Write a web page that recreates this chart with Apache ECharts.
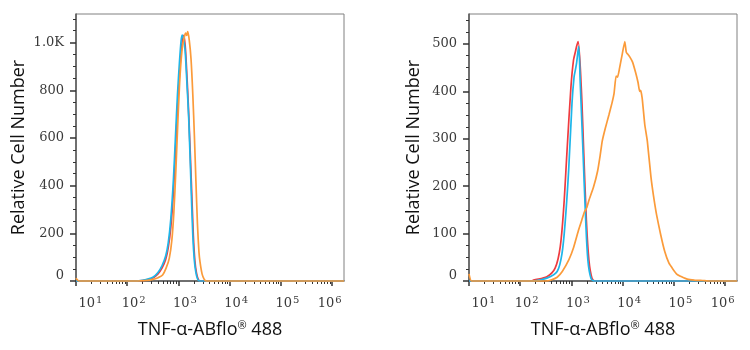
<!DOCTYPE html>
<html>
<head>
<meta charset="utf-8">
<script src="https://cdn.jsdelivr.net/npm/echarts@6/dist/echarts.min.js"></script>
<style>
  html, body { margin: 0; padding: 0; background: #fff; }
  #main { width: 750px; height: 350px; }
</style>
</head>
<body>
<div id="main"></div>
<script>
// x = fluorescence intensity (log axis), y = cell count
// left panel
var leftRedX = [10, 148, 200, 251, 316, 398, 479, 562, 631, 708, 794, 871, 955, 1047, 1148, 1259, 1349, 1445, 1585, 1778, 1950, 2089, 2239, 2399, 2630, 1698244];
var leftRedY = [0, 0, 2, 6, 13, 30, 55, 90, 140, 225, 370, 540, 720, 870, 980, 1030, 990, 880, 700, 420, 190, 85, 35, 10, 0, 0];
var leftCyanX = [10, 148, 200, 251, 316, 398, 479, 562, 631, 708, 794, 871, 955, 1047, 1122, 1175, 1259, 1349, 1445, 1585, 1758, 1905, 2042, 2188, 2344, 2570, 1698244];
var leftCyanY = [0, 0, 3, 8, 16, 36, 65, 105, 160, 260, 420, 600, 780, 920, 1005, 1032, 1015, 965, 850, 680, 400, 190, 85, 35, 10, 0, 0];
var leftOrangeX = [10, 11.5, 158, 224, 316, 398, 490, 575, 661, 741, 813, 891, 977, 1072, 1175, 1288, 1380, 1445, 1514, 1622, 1758, 1905, 2042, 2188, 2344, 2512, 2630, 2884, 3162, 3467, 1698244];
var leftOrangeY = [12, 0, 0, 2, 7, 14, 25, 55, 95, 170, 290, 470, 680, 860, 970, 1020, 1040, 1030, 1046, 1010, 930, 780, 610, 420, 240, 120, 80, 30, 8, 0, 0];

// right panel
var rightRedX = [10, 170, 182, 331, 479, 603, 708, 813, 977, 1096, 1202, 1259, 1349, 1549, 1738, 1950, 2188, 2512, 2951, 1698244];
var rightRedY = [0, 0, 2, 9, 27, 72, 157, 269, 410, 466, 485, 495, 505, 410, 269, 129, 44, 6, 0, 0];
var rightCyanX = [10, 178, 331, 525, 653, 759, 881, 1023, 1122, 1191, 1259, 1380, 1479, 1683, 1892, 2089, 2399, 2818, 1698244];
var rightCyanY = [0, 0, 6, 20, 58, 129, 234, 375, 430, 445, 460, 494, 420, 269, 129, 44, 6, 0, 0];
var rightOrangeX = [10, 11.2, 316, 398, 525, 661, 891, 1096, 1380, 1585, 1778, 1995, 2188, 2692, 3236, 3631, 3981, 4571, 5370, 6166, 6761, 7413, 7943, 8710, 9772, 10965, 11749, 12589, 13804, 15488, 17783, 19953, 21380, 22387, 23988, 26915, 30200, 35481, 39811, 45709, 54954, 66069, 79433, 95499, 114815, 141254, 181970, 251189, 363078, 501187, 1698244];
var rightOrangeY = [15, 0, 0, 2, 8, 20, 45, 70, 108, 128, 145, 155, 170, 198, 232, 265, 295, 322, 350, 375, 395, 432, 430, 450, 478, 505, 482, 478, 472, 462, 440, 418, 400, 402, 385, 330, 295, 220, 180, 140, 98, 62, 38, 25, 14, 9, 4, 2, 1, 0, 0];

// ticks
var xMajor = [10, 100, 1000, 10000, 100000, 1000000];
var xMinor = [];
for (var d = 10; d < 1000000; d *= 10) {
  for (var k = 2; k <= 9; k++) xMinor.push(k * d);
}
var leftYMajor = [0, 200, 400, 600, 800, 1000];
var leftYMinor = [50, 100, 150, 250, 300, 350, 450, 500, 550, 650, 700, 750, 850, 900, 950, 1050, 1100];
var rightYMajor = [0, 100, 200, 300, 400, 500];
var rightYMinor = [25, 50, 75, 125, 150, 175, 225, 250, 275, 325, 350, 375, 425, 450, 475, 525, 550];

var xMin = 10, xMax = Math.pow(10, 6.23);
var serif = 'DejaVu Serif';
var sans = 'Open Sans';
var labelColor = '#3a3a3a';

function zip(xs, ys) {
  return xs.map(function (x, i) { return [x, ys[i]]; });
}

function xAxes(grid) {
  var base = { fontSize: 13, fontFamily: serif, color: labelColor, lineHeight: 15, verticalAlign: 'bottom' };
  var sup = { fontSize: 10, fontFamily: serif, color: labelColor, lineHeight: 11, verticalAlign: 'top' };
  return [{
    type: 'log', gridIndex: grid, min: xMin, max: xMax, position: 'bottom',
    name: '{n|TNF-α-ABflo}{r|®}{n| 488}', nameLocation: 'middle', nameGap: 39,
    nameTextStyle: {
      rich: {
        n: { fontSize: 18, fontFamily: sans, color: '#111' },
        r: { fontSize: 11, fontFamily: sans, color: '#111', padding: [0, 0, 8, 0] }
      }
    },
    axisLine: { lineStyle: { color: '#555', width: 1.5 } },
    axisTick: { customValues: xMajor, length: 5, lineStyle: { color: '#333', width: 1.5 } },
    splitLine: { show: false },
    axisLabel: {
      customValues: xMajor, margin: 14,
      formatter: function (v) {
        var n = Math.round(Math.log10(v));
        if (n === 1) return '{b1|10}{s|1}';
        if (n === 6) return '{b0|10}{s6|6}';
        return '{b|10}{s|' + n + '}';
      },
      rich: {
        b: Object.assign({}, base, { padding: [0, 0, 0, 13] }),
        b1: Object.assign({}, base, { padding: [0, 0, 0, 29] }),
        b0: base,
        s: Object.assign({}, sup, { padding: [0, 0, 10, 1] }),
        s6: Object.assign({}, sup, { padding: [0, 5, 10, 1] })
      }
    }
  }, {
    type: 'log', gridIndex: grid, min: xMin, max: xMax, position: 'bottom',
    axisLine: { show: false },
    axisLabel: { show: false },
    splitLine: { show: false },
    axisTick: { customValues: xMinor, length: 3, lineStyle: { color: '#333', width: 1 } }
  }];
}

function yAxes(grid, max, major, minor, gap) {
  return [{
    type: 'value', gridIndex: grid, min: 0, max: max, position: 'left',
    name: 'Relative Cell Number', nameLocation: 'middle', nameGap: gap,
    nameTextStyle: { fontSize: 18, fontFamily: sans, color: '#111' },
    axisLine: { show: true, lineStyle: { color: '#555', width: 1.5 } },
    axisTick: { show: true, customValues: major, length: 6, lineStyle: { color: '#333', width: 1.5 } },
    splitLine: { show: false },
    axisLabel: {
      customValues: major, margin: 12, fontSize: 13, fontFamily: serif, color: labelColor,
      formatter: function (v) {
        if (v === 0) return '{z|0}';
        if (v === 1000) return '1.0K';
        return String(v);
      },
      rich: { z: { fontSize: 13, fontFamily: serif, color: labelColor, padding: [0, 0, 10, 0] } }
    }
  }, {
    type: 'value', gridIndex: grid, min: 0, max: max, position: 'left',
    axisLine: { show: false },
    axisLabel: { show: false },
    splitLine: { show: false },
    axisTick: { show: true, customValues: minor, length: 3, lineStyle: { color: '#333', width: 1 } }
  }];
}

function line(name, xi, yi, data, color, smooth) {
  return {
    name: name, type: 'line', xAxisIndex: xi, yAxisIndex: yi, data: data,
    showSymbol: false, symbol: 'none', smooth: smooth, clip: false,
    lineStyle: { color: color, width: 1.7 }, itemStyle: { color: color }
  };
}

var red = '#ef3b3f', cyan = '#1eb6ea', orange = '#fb9b3a';

var chart = echarts.init(document.getElementById('main'));
chart.setOption({
  animation: false,
  backgroundColor: '#fff',
  grid: [
    { left: 76, top: 14, width: 268, height: 267, show: true, borderColor: '#808080', borderWidth: 1, outerBoundsMode: 'none' },
    { left: 469, top: 14, width: 268, height: 267, show: true, borderColor: '#808080', borderWidth: 1, outerBoundsMode: 'none' }
  ],
  xAxis: xAxes(0).concat(xAxes(1)),
  yAxis: yAxes(0, 1120, leftYMajor, leftYMinor, 48).concat(yAxes(1, 563, rightYMajor, rightYMinor, 46)),
  series: [
    line('left red', 0, 0, zip(leftRedX, leftRedY), red, 0.3),
    line('left cyan', 0, 0, zip(leftCyanX, leftCyanY), cyan, 0.3),
    line('left orange', 0, 0, zip(leftOrangeX, leftOrangeY), orange, 0.3),
    line('right red', 2, 2, zip(rightRedX, rightRedY), red, 0.3),
    line('right cyan', 2, 2, zip(rightCyanX, rightCyanY), cyan, 0.3),
    line('right orange', 2, 2, zip(rightOrangeX, rightOrangeY), orange, 0.15)
  ]
});
</script>
</body>
</html>
